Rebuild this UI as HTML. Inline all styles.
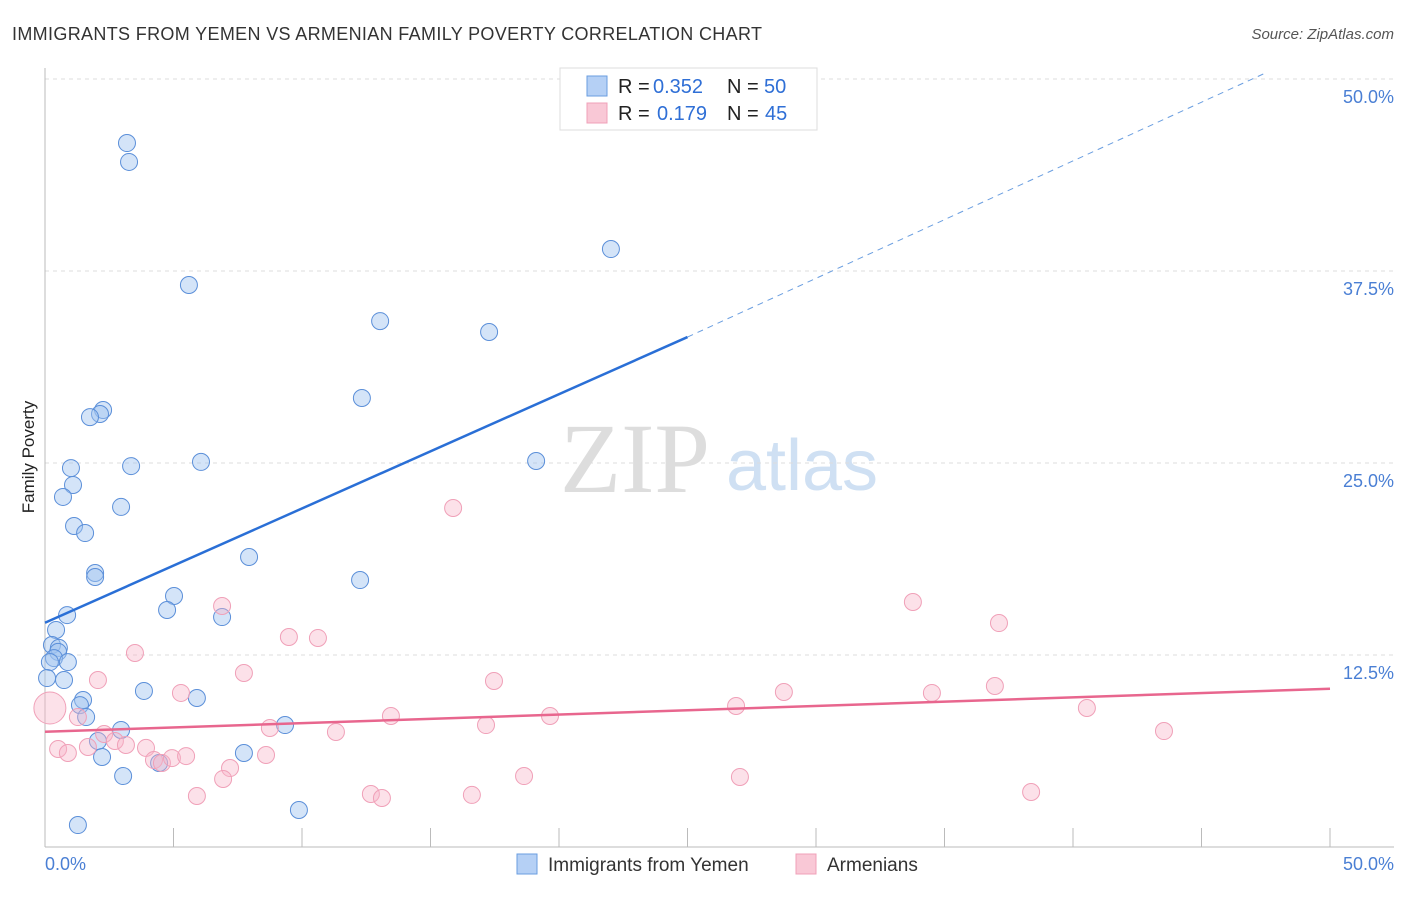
<!DOCTYPE html>
<html><head><meta charset="utf-8"><style>
body{margin:0;background:#fff;font-family:"Liberation Sans",sans-serif}
svg text{font-family:"Liberation Sans",sans-serif}
</style></head><body>
<svg id="c" width="1406" height="892">
<text x="12" y="40" font-size="18" fill="#333" textLength="750">IMMIGRANTS FROM YEMEN VS ARMENIAN FAMILY POVERTY CORRELATION CHART</text>
<text x="1394" y="39" font-size="15" fill="#555" font-style="italic" text-anchor="end">Source: ZipAtlas.com</text>
<text x="34" y="457" font-size="17" fill="#222" transform="rotate(-90 34 457)" text-anchor="middle">Family Poverty</text>
<g><text x="635" y="492" font-size="100" fill="#ddd" style="font-family:'Liberation Serif',serif" text-anchor="middle">ZIP</text><text x="802" y="490" font-size="72" fill="#cfe0f3" text-anchor="middle">atlas</text></g>
<g id="grid"></g><g id="marks"></g>
<g>
<rect x="560" y="68" width="257" height="62" fill="#fff" stroke="#ddd"/>
<rect x="587" y="76" width="20" height="20" fill="#b5d0f5" stroke="#6a9ee0"/>
<text x="618" y="93" font-size="20" fill="#222">R =</text><text x="653" y="93" font-size="20" fill="#2f6fd6">0.352</text>
<text x="727" y="93" font-size="20" fill="#222">N =</text><text x="764" y="93" font-size="20" fill="#2f6fd6">50</text>
<rect x="587" y="103" width="20" height="20" fill="#f9c8d6" stroke="#f0a0b8"/>
<text x="618" y="120" font-size="20" fill="#222">R =</text><text x="657" y="120" font-size="20" fill="#2f6fd6">0.179</text>
<text x="727" y="120" font-size="20" fill="#222">N =</text><text x="765" y="120" font-size="20" fill="#2f6fd6">45</text>
</g>
<g>
<rect x="517" y="854" width="20" height="20" fill="#b5d0f5" stroke="#6a9ee0"/>
<text x="548" y="871" font-size="19" fill="#333">Immigrants from Yemen</text>
<rect x="796" y="854" width="20" height="20" fill="#f9c8d6" stroke="#f0a0b8"/>
<text x="827" y="871" font-size="19" fill="#333">Armenians</text>
</g>
</svg>
<script>
const yTicks=[12.5,25,37.5,50];
const yTickLabels=["12.5%","25.0%","37.5%","50.0%"];
const xTicks=[5,10,15,20,25,30,35,40,45,50];
const blueX=[3.19,3.27,22.02,5.60,13.04,17.28,12.33,2.26,2.14,1.75,1.01,3.35,6.07,19.11,1.09,0.70,2.96,1.13,1.56,7.94,1.95,1.95,12.26,5.02,4.75,0.86,6.89,0.43,0.27,0.54,0.51,0.35,0.89,0.19,0.08,0.74,3.85,1.48,5.91,1.36,1.60,2.96,9.34,2.06,2.22,7.74,4.44,3.04,9.88,1.28];
const blueY=[45.83,44.60,38.93,36.59,34.24,33.53,29.23,28.45,28.19,27.99,24.67,24.80,25.07,25.13,23.57,22.79,22.14,20.90,20.44,18.88,17.84,17.58,17.38,16.34,15.43,15.10,14.97,14.13,13.15,12.96,12.70,12.30,12.04,12.04,11.00,10.87,10.16,9.57,9.70,9.24,8.46,7.62,7.94,6.90,5.86,6.12,5.47,4.62,2.41,1.43];
const pinkX=[0.19,15.88,6.89,33.77,9.49,10.62,37.12,3.50,2.06,7.74,17.47,5.29,28.75,34.51,36.96,13.46,19.65,26.89,40.54,1.28,8.75,11.32,17.16,43.54,2.30,0.51,0.89,1.67,2.72,3.15,3.93,4.24,4.55,4.94,5.49,7.20,8.60,6.93,18.64,27.04,5.91,12.68,13.11,16.61,38.37];
const pinkY=[9.05,22.07,15.69,15.95,13.67,13.61,14.58,12.63,10.87,11.33,10.81,10.03,10.09,10.03,10.48,8.53,8.53,9.18,9.05,8.46,7.75,7.49,7.94,7.55,7.36,6.38,6.12,6.51,6.90,6.64,6.45,5.66,5.47,5.79,5.92,5.14,5.99,4.43,4.62,4.56,3.32,3.45,3.19,3.39,3.58];
const blueTrend=[[0,14.6],[25,33.2],[47.5,50.4]];
const pinkTrend=[[0,7.5],[50,10.3]];
const NS='http://www.w3.org/2000/svg';
const X=v=>45+v*25.7, Y=v=>847-v*15.36;
function mk(t,a,p){const e=document.createElementNS(NS,t);for(const k in a)e.setAttribute(k,a[k]);p.appendChild(e);return e;}
const g=document.getElementById('grid'), m=document.getElementById('marks');
yTicks.forEach((t,i)=>{
 const l=mk('line',{x1:45,x2:1394,y1:Y(t),y2:Y(t),stroke:'#ddd','stroke-dasharray':'4,4'},g);
 
 
 const tx=mk('text',{x:1394,y:Y(t)+24,'font-size':18,fill:'#4a7fd4','text-anchor':'end'},g);tx.textContent=yTickLabels[i];
 
 
});
mk('line',{x1:45,x2:45,y1:68,y2:847,stroke:'#bbb'},g);
mk('line',{x1:45,x2:1394,y1:847,y2:847,stroke:'#bbb'},g);
xTicks.forEach(t=>{const l=mk('line',{x1:X(t),x2:X(t),y1:828,y2:847,stroke:'#bbb'},g);
 
 });
const t0=mk('text',{x:45,y:870,'font-size':18,fill:'#4a7fd4'},g);t0.textContent='0.0%';
const t1=mk('text',{x:1394,y:870,'font-size':18,fill:'#4a7fd4','text-anchor':'end'},g);t1.textContent='50.0%';
blueX.forEach((x,i)=>{const c=mk('circle',{cx:X(x),cy:Y(blueY[i]),r:8.5,fill:'rgba(160,196,240,0.45)',stroke:'#5b8fd9','stroke-width':1},m);
 
 });
pinkX.forEach((x,i)=>{const c=mk('circle',{cx:X(x),cy:Y(pinkY[i]),r:i==0?16:8.5,fill:'rgba(248,180,200,0.4)',stroke:'#f0a0b8','stroke-width':1},m);
 
 });
const bl=mk('line',{x1:X(blueTrend[0][0]),y1:Y(blueTrend[0][1]),x2:X(blueTrend[1][0]),y2:Y(blueTrend[1][1]),stroke:'#2a6fd6','stroke-width':2.5},m);


const bd=mk('line',{x1:X(blueTrend[1][0]),y1:Y(blueTrend[1][1]),x2:X(blueTrend[2][0]),y2:Y(blueTrend[2][1]),stroke:'#6a9ee0','stroke-width':1,'stroke-dasharray':'6,5'},m);


const pl=mk('line',{x1:X(pinkTrend[0][0]),y1:Y(pinkTrend[0][1]),x2:X(pinkTrend[1][0]),y2:Y(pinkTrend[1][1]),stroke:'#e8668e','stroke-width':2.5},m);


</script>
</body></html>
